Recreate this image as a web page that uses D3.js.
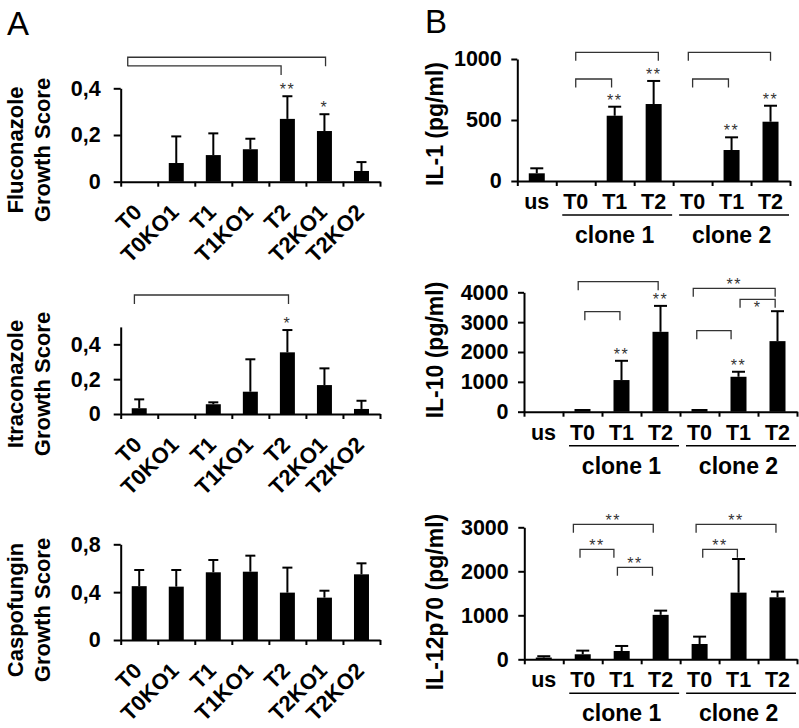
<!DOCTYPE html>
<html><head><meta charset="utf-8">
<script src="https://cdn.jsdelivr.net/npm/d3@7"></script>
<style>
body{margin:0;background:#fff}
svg{display:block}
text{font-family:"Liberation Sans",Arial,Helvetica,sans-serif}
</style>
</head><body>
<svg id="c" width="799" height="728"></svg>
<script>
// ---------------- DATA ----------------
const aCategories = ["T0", "T0KO1", "T1", "T1KO1", "T2", "T2KO1", "T2KO2"];
const aTicksFluco = [0, 0.2, 0.4];
const aTicksItra = [0, 0.2, 0.4];
const aTicksCaspo = [0, 0.4, 0.8];

const flucoValues = [0, 0.080, 0.114, 0.139, 0.269, 0.217, 0.046];
const flucoErrors = [0, 0.114, 0.093, 0.045, 0.097, 0.072, 0.038];
const flucoStars  = ["", "", "", "", "**", "*", ""];
const flucoBrackets = [
  {from: -0.31, to: 5.03, level: 0.533, legL: true,  label: ""},
  {from: -0.31, to: 3.83, level: 0.496, legL: false, label: ""}
];

const itraValues = [0.033, 0, 0.056, 0.128, 0.354, 0.166, 0.029];
const itraErrors = [0.051, 0, 0.011, 0.186, 0.128, 0.096, 0.047];
const itraStars  = ["", "", "", "", "*", "", ""];
const itraBrackets = [
  {from: -0.13, to: 4.03, level: 0.683, legL: true, label: ""}
];

const caspoValues = [0.450, 0.446, 0.566, 0.571, 0.396, 0.354, 0.549];
const caspoErrors = [0.135, 0.139, 0.103, 0.134, 0.209, 0.058, 0.092];
const caspoStars  = ["", "", "", "", "", "", ""];

const bCategories = ["us", "T0", "T1", "T2", "T0", "T1", "T2"];
const bGroups = [
  {label: "clone 1", from: 1, to: 3},
  {label: "clone 2", from: 4, to: 6}
];
const il1Ticks = [0, 500, 1000];
const il10Ticks = [0, 1000, 2000, 3000, 4000];
const il12Ticks = [0, 1000, 2000, 3000];

const il1Values = [63, 0, 535, 631, 0, 254, 486];
const il1Errors = [41, 0, 74, 189, 0, 104, 131];
const il1Stars  = ["", "", "**", "**", "", "**", "**"];
const il1Brackets = [
  {from: 1.00, to: 3.12, level: 1055, legL: true, label: ""},
  {from: 1.00, to: 1.92, level: 836,  legL: true, label: ""},
  {from: 3.89, to: 6.00, level: 1055, legL: true, label: ""},
  {from: 4.00, to: 4.92, level: 836,  legL: true, label: ""}
];

const il10Values = [0, 90, 1060, 2676, 90, 1170, 2364];
const il10Errors = [0, 0, 645, 869, 0, 168, 1003];
const il10Stars  = ["", "", "**", "**", "", "**", ""];
const il10Brackets = [
  {from: 0.89, to: 2.94, level: 4355, legL: true, label: ""},
  {from: 1.06, to: 1.96, level: 3350, legL: true, label: ""},
  {from: 3.84, to: 5.94, level: 4134, legL: true, label: "**"},
  {from: 5.04, to: 5.94, level: 3765, legL: true, label: "*", below: true},
  {from: 3.93, to: 4.81, level: 2714, legL: true, label: ""}
];

const il12Values = [40, 114, 189, 1010, 348, 1515, 1409];
const il12Errors = [30, 83, 114, 96, 167, 765, 129];
const il12Stars  = ["", "", "", "", "", "", ""];
const il12Brackets = [
  {from: 0.76, to: 2.81, level: 3068, legL: true, label: "**"},
  {from: 0.93, to: 1.80, level: 2500, legL: true, label: "**"},
  {from: 1.89, to: 2.79, level: 2091, legL: true, label: "**"},
  {from: 3.91, to: 5.96, level: 3068, legL: true, label: "**"},
  {from: 4.08, to: 4.97, level: 2500, legL: true, label: "**"}
];

// ---------------- DRAWING ----------------
const svg = d3.select("#c");

function drawPanel(cfg) {
  const g = svg.append("g");
  const n = cfg.categories.length;
  const x = d3.scaleLinear().domain([-0.5, n - 0.5]).range([cfg.x0, cfg.x1]);
  const y = d3.scaleLinear().domain([0, cfg.yMax]).range([cfg.y0, cfg.yTop]);

  // bars
  g.selectAll("rect.bar").data(cfg.values).join("rect")
    .attr("class", "bar")
    .attr("x", (d, i) => x(i) - cfg.barW / 2)
    .attr("width", cfg.barW)
    .attr("y", d => y(d))
    .attr("height", d => y(0) - y(d))
    .attr("fill", "#000");

  // error bars (upper only)
  const err = cfg.values.map((v, i) => ({i, v, e: cfg.errors[i]})).filter(d => d.e > 0);
  g.selectAll("line.err").data(err).join("line")
    .attr("class", "err")
    .attr("x1", d => x(d.i)).attr("x2", d => x(d.i))
    .attr("y1", d => y(d.v)).attr("y2", d => y(d.v + d.e))
    .attr("stroke", "#000").attr("stroke-width", 2);
  g.selectAll("line.cap").data(err).join("line")
    .attr("class", "cap")
    .attr("x1", d => x(d.i) - cfg.capW / 2).attr("x2", d => x(d.i) + cfg.capW / 2)
    .attr("y1", d => y(d.v + d.e)).attr("y2", d => y(d.v + d.e))
    .attr("stroke", "#000").attr("stroke-width", 2);

  // stars above bars
  const st = cfg.values.map((v, i) => ({i, top: v + (cfg.errors[i] || 0), s: cfg.stars[i]})).filter(d => d.s);
  g.selectAll("text.star").data(st).join("text")
    .attr("class", "star")
    .attr("x", d => x(d.i)).attr("y", d => y(d.top) - 1)
    .attr("text-anchor", "middle")
    .attr("font-size", 16).attr("letter-spacing", 1.5).attr("fill", "#333")
    .text(d => d.s);

  // brackets
  const leg = cfg.leg;
  (cfg.brackets || []).forEach(b => {
    const xl = x(b.from), xr = x(b.to), yl = y(b.level);
    const p = d3.path();
    if (b.legL) { p.moveTo(xl, yl + leg); p.lineTo(xl, yl); } else { p.moveTo(xl, yl); }
    p.lineTo(xr, yl); p.lineTo(xr, yl + leg);
    g.append("path").attr("d", p.toString()).attr("fill", "none")
      .attr("stroke", "#333").attr("stroke-width", 1.3);
    if (b.label) {
      g.append("text").attr("x", (xl + xr) / 2)
        .attr("y", b.below ? yl + 14 : yl + 1.5)
        .attr("text-anchor", "middle")
        .attr("font-size", 16).attr("letter-spacing", 1.5).attr("fill", "#333")
        .text(b.label);
    }
  });

  // y axis
  const ya = g.append("g").attr("transform", `translate(${cfg.x0},0)`)
    .call(d3.axisLeft(y).tickValues(cfg.yTicks).tickSize(cfg.yTickLen).tickSizeOuter(0)
      .tickPadding(cfg.yPad).tickFormat(cfg.fmt));
  ya.select(".domain").attr("stroke", "#000").attr("stroke-width", 2);
  ya.selectAll(".tick line").attr("stroke", "#000").attr("stroke-width", 2);
  ya.selectAll(".tick text").attr("font-family", null).attr("font-size", cfg.tickFont)
    .attr("font-weight", "bold").attr("fill", "#000");

  // x axis (ticks at category boundaries)
  const bounds = d3.range(n + 1).map(i => i - 0.5);
  const xa = g.append("g").attr("transform", `translate(0,${cfg.y0})`)
    .call(d3.axisBottom(x).tickValues(bounds).tickSize(5).tickSizeOuter(0).tickFormat(""));
  xa.select(".domain").attr("stroke", "#000").attr("stroke-width", 2);
  xa.selectAll(".tick line").attr("stroke", "#000").attr("stroke-width", 2);

  // x labels
  if (cfg.rotLabels) {
    g.selectAll("text.xl").data(cfg.categories).join("text")
      .attr("class", "xl")
      .attr("transform", (d, i) => `translate(${x(i) + 4},${cfg.y0 + 32}) rotate(-45)`)
      .attr("text-anchor", "end").attr("font-size", 22).attr("font-weight", "bold")
      .text(d => d);
  } else {
    g.selectAll("text.xl").data(cfg.categories).join("text")
      .attr("class", "xl")
      .attr("x", (d, i) => x(i)).attr("y", cfg.y0 + 28)
      .attr("text-anchor", "middle").attr("font-size", 21.5).attr("font-weight", "bold")
      .text(d => d);
    (cfg.groups || []).forEach(gr => {
      const xl = x(gr.from - 0.5) + 6, xr = x(gr.to + 0.5) - 1;
      g.append("line").attr("x1", xl).attr("x2", xr)
        .attr("y1", cfg.y0 + 34).attr("y2", cfg.y0 + 34)
        .attr("stroke", "#000").attr("stroke-width", 1.6);
      g.append("text").attr("x", (x(gr.from) + x(gr.to)) / 2).attr("y", cfg.y0 + 62)
        .attr("text-anchor", "middle").attr("font-size", 23).attr("font-weight", "bold")
        .text(gr.label);
    });
  }

  // y title
  const t = g.append("text")
    .attr("transform", `translate(${cfg.titleX},${cfg.titleY}) rotate(-90)`)
    .attr("text-anchor", "middle").attr("font-size", cfg.titleFont).attr("font-weight", "bold");
  cfg.title.forEach((line, k) => {
    t.append("tspan").attr("x", 0).attr("y", k * cfg.titleGap).text(line);
  });
}

const fmtComma = d => d === 0 ? "0" : d3.format(".1f")(d).replace(".", ",");
const fmtInt = d => String(d);

const aCommon = {categories: aCategories, x0: 120.7, x1: 380, barW: 15, capW: 10, leg: 9,
  yTickLen: 7, yPad: 13, tickFont: 21.5, fmt: fmtComma, rotLabels: true,
  titleX: 23, titleFont: 22, titleGap: 27};
drawPanel(Object.assign({}, aCommon, {values: flucoValues, errors: flucoErrors, stars: flucoStars,
  brackets: flucoBrackets, y0: 181.7, yTop: 88.3, yMax: 0.4, yTicks: aTicksFluco,
  title: ["Fluconazole", "Growth Score"], titleY: 150}));
drawPanel(Object.assign({}, aCommon, {values: itraValues, errors: itraErrors, stars: itraStars,
  brackets: itraBrackets, y0: 414, yTop: 326.9, yMax: 0.5, yTicks: aTicksItra,
  title: ["Itraconazole", "Growth Score"], titleY: 384}));
drawPanel(Object.assign({}, aCommon, {values: caspoValues, errors: caspoErrors, stars: caspoStars,
  brackets: [], y0: 640, yTop: 544.3, yMax: 0.8, yTicks: aTicksCaspo,
  title: ["Caspofungin", "Growth Score"], titleY: 610}));

const bCommon = {categories: bCategories, groups: bGroups, barW: 16, capW: 13, leg: 8.5,
  yTickLen: 6, yPad: 9.5, tickFont: 21.5, fmt: fmtInt, rotLabels: false,
  titleX: 443, titleFont: 23, titleGap: 0};
drawPanel(Object.assign({}, bCommon, {values: il1Values, errors: il1Errors, stars: il1Stars,
  brackets: il1Brackets, x0: 517.3, x1: 790, y0: 181, yTop: 59, yMax: 1000, yTicks: il1Ticks,
  title: ["IL-1 (pg/ml)"], titleY: 124}));
drawPanel(Object.assign({}, bCommon, {values: il10Values, errors: il10Errors, stars: il10Stars,
  brackets: il10Brackets, x0: 524, x1: 797, y0: 411.7, yTop: 292.3, yMax: 4000, yTicks: il10Ticks,
  title: ["IL-10 (pg/ml)"], titleY: 350}));
drawPanel(Object.assign({}, bCommon, {values: il12Values, errors: il12Errors, stars: il12Stars,
  brackets: il12Brackets, x0: 524.3, x1: 797, y0: 659.3, yTop: 527.3, yMax: 3000, yTicks: il12Ticks,
  title: ["IL-12p70 (pg/ml)"], titleY: 602}));

// panel letters
svg.append("text").attr("x", 7).attr("y", 35).attr("font-size", 33).text("A");
svg.append("text").attr("x", 425).attr("y", 33).attr("font-size", 33).text("B");
</script>
</body></html>
